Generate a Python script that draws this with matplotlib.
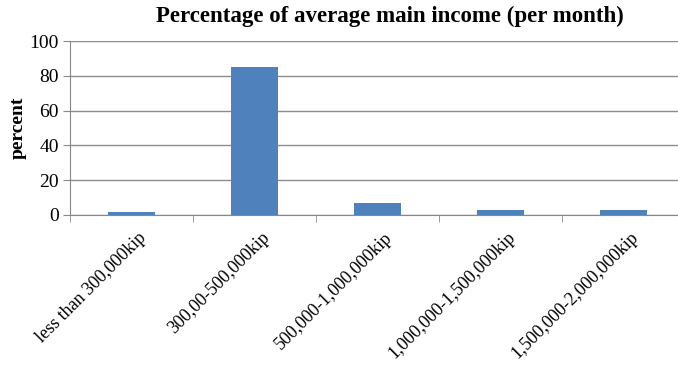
import matplotlib
matplotlib.use('Agg')
import matplotlib.pyplot as plt

# income groups and share of respondents (%)
categories = ['less than 300,000kip', '300,00-500,000kip', '500,000-1,000,000kip',
              '1,000,000-1,500,000kip', '1,500,000-2,000,000kip']
percent = [1.5, 85, 6.7, 3, 3]
yticks = [0, 20, 40, 60, 80, 100]

plt.rcParams['font.family'] = ['Liberation Serif', 'DejaVu Serif']

fig = plt.figure(figsize=(6.78, 3.70), dpi=100)
ax = fig.add_axes([70 / 678, 1 - 215 / 370, 615 / 678, 174 / 370])

x = list(range(len(categories)))
ax.bar(x, percent, width=0.39, color='#4F81BD', zorder=3)

ax.set_xlim(-0.5, len(categories) - 0.5)
ax.set_ylim(0, 100)
ax.set_yticks(yticks)
ax.tick_params(axis='y', labelsize=14, length=5, color='#888888', pad=3)
ax.yaxis.grid(True, color='#8c8c8c', linewidth=1.0, zorder=0)

# category labels centered under bars, tick marks between categories
ax.set_xticks([i + 0.05 for i in x])
ax.set_xticklabels(categories, rotation=45, ha='right', rotation_mode='anchor', fontsize=13)
ax.tick_params(axis='x', which='major', length=0, pad=10)
ax.set_xticks([i - 0.5 for i in x] + [len(categories) - 0.5], minor=True)
ax.tick_params(axis='x', which='minor', length=5, color='#888888')

for side in ['top', 'right']:
    ax.spines[side].set_visible(False)
for side in ['left', 'bottom']:
    ax.spines[side].set_color('#888888')

ax.set_ylabel('percent', fontsize=14, fontweight='bold', labelpad=2)
fig.text(390 / 678, 1 - 16 / 370, 'Percentage of average main income (per month)',
         ha='center', va='center', fontsize=16.5, fontweight='bold')

fig.savefig('out.png', dpi=100)
